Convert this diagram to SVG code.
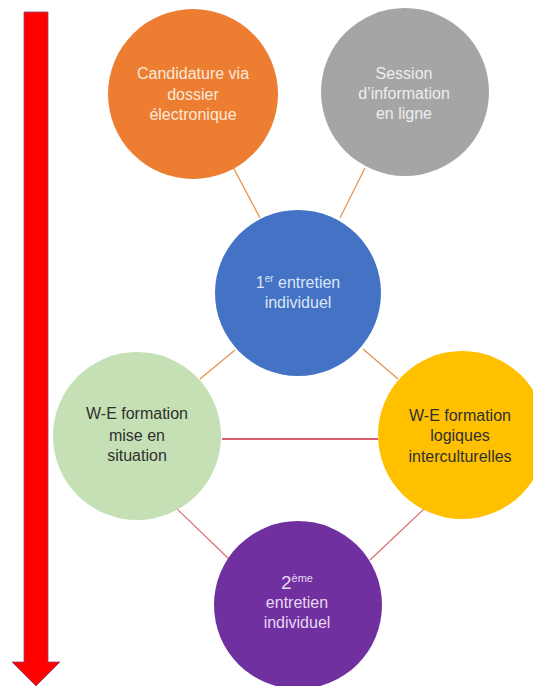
<svg xmlns="http://www.w3.org/2000/svg" width="533" height="686" viewBox="0 0 533 686">
<style>
text{font-family:"Liberation Sans",Arial,sans-serif;font-size:16px;text-anchor:middle}
.lt{fill:#FBE9DC}
.lg{fill:#EEEEEE}
.lb{fill:#DCE5F5}
.dk{fill:#303030}
.lp{fill:#E6D8F2}
.co{stroke:#E8914E;stroke-width:1.3;fill:none}
.cr{stroke:#C8283E;stroke-width:1.3;fill:none}
.cp{stroke:#D86A6A;stroke-width:1.1;fill:none}
</style>
<rect width="533" height="686" fill="#FFFFFF"/>
<g id="arrow">
<path d="M24,12 H48 V662 H60 L36,686 L12,662 H24 Z" fill="#FF0000" stroke="#8A4A7A" stroke-width="0.8"/>
</g>
<g id="connectors">
<line class="co" x1="233" y1="167" x2="260" y2="218"/>
<line class="co" x1="365" y1="168" x2="340" y2="218"/>
<line class="co" x1="235" y1="350" x2="200" y2="379"/>
<line class="co" x1="363" y1="349" x2="398" y2="379"/>
<line class="cr" x1="222" y1="439" x2="378" y2="439"/>
<line class="cp" x1="175" y1="507" x2="230" y2="560"/>
<line class="cp" x1="425" y1="508" x2="370" y2="560"/>
</g>
<g id="candidature">
<circle cx="193" cy="94" r="85" fill="#ED7D31"/>
<text class="lt" x="193" y="79">Candidature via</text>
<text class="lt" x="193" y="100">dossier</text>
<text class="lt" x="193" y="120">électronique</text>
</g>
<g id="session">
<circle cx="405" cy="92" r="84" fill="#A5A5A5"/>
<text class="lg" x="404" y="79">Session</text>
<text class="lg" x="404" y="99">d’information</text>
<text class="lg" x="404" y="119">en ligne</text>
</g>
<g id="entretien1">
<circle cx="298" cy="293" r="83" fill="#4472C4"/>
<text class="lb" x="298" y="288">1<tspan font-size="10" dy="-6">er</tspan><tspan dy="6"> entretien</tspan></text>
<text class="lb" x="298" y="308">individuel</text>
</g>
<g id="mise-en-situation">
<circle cx="137" cy="436" r="84" fill="#C5E0B4"/>
<text class="dk" x="137" y="419">W-E formation</text>
<text class="dk" x="137" y="441">mise en</text>
<text class="dk" x="137" y="461">situation</text>
</g>
<g id="logiques-interculturelles">
<circle cx="462" cy="435" r="84" fill="#FFC000"/>
<text class="dk" x="460" y="421">W-E formation</text>
<text class="dk" x="460" y="441">logiques</text>
<text class="dk" x="460" y="462">interculturelles</text>
</g>
<g id="entretien2">
<circle cx="298" cy="605" r="84" fill="#7030A0"/>
<text class="lp" x="297" y="589"><tspan font-size="19">2</tspan><tspan font-size="11" dy="-7">ème</tspan></text>
<text class="lp" x="297" y="608">entretien</text>
<text class="lp" x="297" y="628">individuel</text>
</g>
</svg>
